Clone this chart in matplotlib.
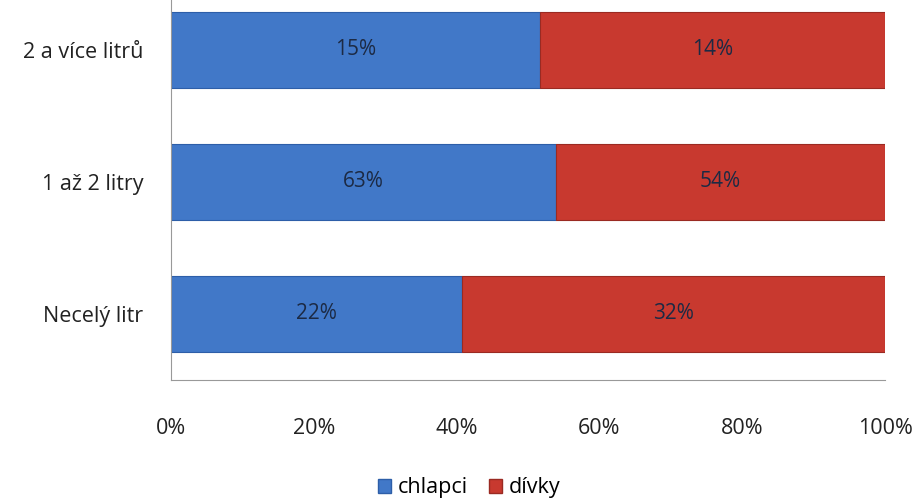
import matplotlib.pyplot as plt
import numpy as np
from matplotlib.patches import Patch

# data
categories = ["Necelý litr", "1 až 2 litry", "2 a více litrů"]
chlapci = [22, 63, 15]
divky = [32, 54, 14]
xticks = [0, 20, 40, 60, 80, 100]

BLUE = "#4178c8"
RED = "#c8392f"
TXT = "#1c2a44"

plt.rcParams['font.family'] = ['Open Sans', 'DejaVu Sans']

fig = plt.figure(figsize=(9.2, 5.04), dpi=100)
ax = fig.add_axes([0.186, 0.246, 0.776, 0.786])

c = np.array(chlapci, dtype=float)
d = np.array(divky, dtype=float)
tot = c + d
cp = c / tot * 100
dp = d / tot * 100
y = np.arange(len(categories))

ax.barh(y, cp, height=0.57, color=BLUE, edgecolor="#2d5ea8", linewidth=0.8)
ax.barh(y, dp, left=cp, height=0.57, color=RED, edgecolor="#9a2a22", linewidth=0.8)

for i in range(len(categories)):
    ax.text(cp[i] / 2, y[i], f"{chlapci[i]}%", ha="center", va="center",
            fontsize=15, color=TXT)
    ax.text(cp[i] + dp[i] / 2, y[i], f"{divky[i]}%", ha="center", va="center",
            fontsize=15, color=TXT)

ax.set_xlim(0, 100)
ax.set_ylim(-0.5, 2.5)
ax.set_yticks(y)
ax.set_yticklabels(categories, fontsize=15.5, color="#222222")
ax.set_xticks(xticks)
ax.set_xticklabels([f"{t}%" for t in xticks], fontsize=15.5, color="#222222")
ax.tick_params(axis="both", length=0)
ax.tick_params(axis="x", pad=27)
ax.tick_params(axis="y", pad=20)
for s in ["top", "right"]:
    ax.spines[s].set_visible(False)
for s in ["left", "bottom"]:
    ax.spines[s].set_color("#999999")
    ax.spines[s].set_linewidth(0.8)

handles = [Patch(facecolor=BLUE, edgecolor="#2d5ea8", label="chlapci"),
           Patch(facecolor=RED, edgecolor="#9a2a22", label="dívky")]
fig.legend(handles=handles, loc="center", bbox_to_anchor=(0.51, 0.032), ncol=2,
           frameon=False, fontsize=15.5, handlelength=0.6, handleheight=0.6,
           handletextpad=0.3, columnspacing=1.0)

plt.savefig("out.png", dpi=100)
